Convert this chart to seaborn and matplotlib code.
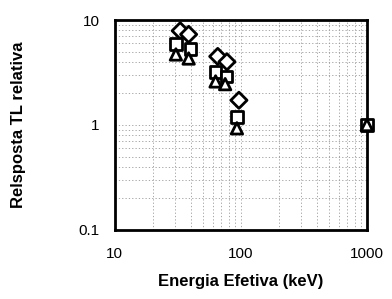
import numpy as np
import pandas as pd
import matplotlib
matplotlib.use("Agg")
import matplotlib.pyplot as plt
from matplotlib.ticker import LogLocator, NullFormatter, FixedLocator, FixedFormatter
import seaborn as sns

# Dados
losango = [7.9, 7.3, 4.5, 4.0, 1.72]
quadrado = [5.9, 5.3, 3.2, 2.9, 1.19, 1.0]
triangulo = [4.7, 4.3, 2.6, 2.45, 0.93, 1.0]

# energias de cada conjunto (pequeno deslocamento como no original)
energia_los = [33, 38.5, 65.5, 77.5, 96.5]
energia_qua = [30.5, 40, 63, 77, 93, 1000]
energia_tri = [30.5, 38.5, 63, 75, 93, 1000]

df = pd.concat([
    pd.DataFrame({"energia": energia_los, "resp": losango, "serie": "A"}),
    pd.DataFrame({"energia": energia_qua, "resp": quadrado, "serie": "B"}),
    pd.DataFrame({"energia": energia_tri, "resp": triangulo, "serie": "C"}),
], ignore_index=True)

sns.set_style("white")
plt.rcParams["font.family"] = ["Liberation Sans", "DejaVu Sans"]
plt.rcParams["text.color"] = "black"
plt.rcParams["axes.labelcolor"] = "black"
plt.rcParams["xtick.color"] = "black"
plt.rcParams["ytick.color"] = "black"

fig = plt.figure(figsize=(3.92, 2.99), dpi=100)
ax = fig.add_axes([0.293, 0.231, 0.643, 0.702])

sns.scatterplot(data=df, x="energia", y="resp", style="serie",
                markers={"A": "D", "B": "s", "C": "^"},
                s=68, facecolor="white", edgecolor="black", linewidth=2,
                legend=False, ax=ax, zorder=5, clip_on=False)

ax.set_xscale("log")
ax.set_yscale("log")
ax.set_xlim(10, 1000)
ax.set_ylim(0.1, 10)

ax.xaxis.set_major_locator(FixedLocator([10, 100, 1000]))
ax.xaxis.set_major_formatter(FixedFormatter(["10", "100", "1000"]))
ax.yaxis.set_major_locator(FixedLocator([0.1, 1, 10]))
ax.yaxis.set_major_formatter(FixedFormatter(["0.1", "1", "10"]))
ax.xaxis.set_minor_locator(LogLocator(base=10, subs=np.arange(2, 10)))
ax.yaxis.set_minor_locator(LogLocator(base=10, subs=np.arange(2, 10)))
ax.xaxis.set_minor_formatter(NullFormatter())
ax.yaxis.set_minor_formatter(NullFormatter())

ax.grid(True, which="both", color="#999999", linestyle=(0, (1.5, 2.5)), linewidth=0.6)
ax.tick_params(which="both", length=0, labelsize=11)
ax.tick_params(axis="y", pad=11)
ax.tick_params(axis="x", pad=12)

for s in ax.spines.values():
    s.set_linewidth(2)
    s.set_color("black")

ax.set_xlabel("Energia Efetiva (keV)", fontsize=12, fontweight="bold", labelpad=10)
ax.set_ylabel("Relsposta TL relativa", fontsize=12, fontweight="bold", labelpad=38)

fig.savefig("out.png", dpi=100)
